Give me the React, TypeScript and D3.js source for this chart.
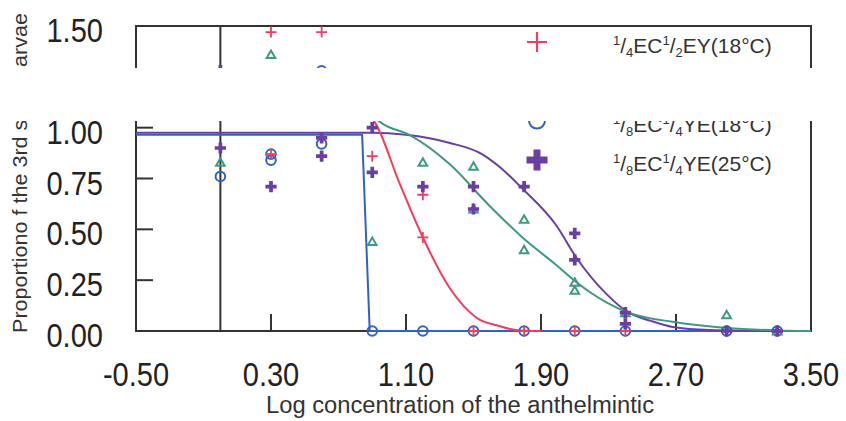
import React from 'react';
import * as d3 from 'd3';

// axis ticks
const xTicks = [-0.5, 0.3, 1.1, 1.9, 2.7, 3.5];
const yTicks = [0, 0.25, 0.5, 0.75, 1.0, 1.25, 1.5];

// observed points (log concentration, proportion)
const redX = [0.3, 0.6, 0.3, 0.9, 1.2, 1.2, 1.5, 1.8, 2.1, 2.4, 3.0, 3.3];
const redY = [1.47, 1.47, 0.87, 0.86, 0.67, 0.46, 0, 0, 0, 0, 0, 0];
const greenX = [0, 0.3, 0.9, 1.2, 1.5, 1.5, 1.8, 1.8, 2.1, 2.1, 2.4, 3.0, 3.3];
const greenY = [0.83, 1.36, 0.44, 0.83, 0.81, 0.6, 0.55, 0.4, 0.24, 0.2, 0.09, 0.08, 0];
const blueX = [0, 0.3, 0.3, 0.6, 0.6, 0.9, 1.2, 1.5, 1.8, 2.1, 2.4, 3.0, 3.3];
const blueY = [0.76, 0.87, 0.84, 0.92, 1.28, 0, 0, 0, 0, 0, 0, 0, 0];
const purpleX = [0, 0, 0.3, 0.6, 0.6, 0.9, 0.9, 1.2, 1.5, 1.5, 1.8, 2.1, 2.1, 2.4, 2.4, 3.0, 3.3];
const purpleY = [0.9, 1.28, 0.71, 0.95, 0.86, 1.0, 0.78, 0.71, 0.71, 0.6, 0.71, 0.48, 0.35, 0.09, 0.035, 0, 0];

// fitted curves
const redFitX = [0.86, 0.92, 1.06, 1.2, 1.36, 1.52, 1.65, 1.77, 1.9];
const redFitY = [1.08, 1.02, 0.73, 0.46, 0.21, 0.064, 0.025, 0.003, 0];
const greenFitX = [0.85, 0.96, 1.12, 1.36, 1.59, 1.79, 1.99, 2.11, 2.29, 2.42, 2.68, 3.0, 3.3, 3.5];
const greenFitY = [1.1, 1.02, 0.965, 0.82, 0.62, 0.46, 0.325, 0.24, 0.14, 0.09, 0.045, 0.015, 0.003, 0];
const blueFitX = [-0.5, 0.84, 0.885, 3.5];
const blueFitY = [0.965, 0.965, 0, 0];
const purpleFitX = [-0.5, 0.9, 1.1, 1.36, 1.55, 1.65, 1.79, 1.99, 2.11, 2.29, 2.42, 2.55, 2.68, 2.9, 3.3];
const purpleFitY = [0.975, 0.975, 0.965, 0.925, 0.87, 0.81, 0.7, 0.52, 0.36, 0.18, 0.09, 0.05, 0.02, 0.005, 0];

const legendLabels = [
  ['4', '2', 'EY(18°C)'],
  ['4', '2', 'EY(25°C)'],
  ['8', '4', 'YE(18°C)'],
  ['8', '4', 'YE(25°C)'],
];

const RED = '#f43b5c';
const GREEN = '#3f9a82';
const BLUE = '#2f62c9';
const PURPLE = '#6a3fa3';
const AXIS = '#333';
const FONT = 'Liberation Sans, Arial, Helvetica, sans-serif';

const zip = (xs: number[], ys: number[]) => xs.map((x, i) => [x, ys[i]] as [number, number]);

const App = () => {
  const W = 846, H = 421;
  const x = d3.scaleLinear().domain([-0.5, 3.5]).range([136, 811]);
  const y = d3.scaleLinear().domain([0, 1.5]).range([331, 26]);

  const smooth = d3.line<[number, number]>().x(d => x(d[0])).y(d => y(d[1])).curve(d3.curveMonotoneX);
  const straight = d3.line<[number, number]>().x(d => x(d[0])).y(d => y(d[1]));

  const cross = (s: number) => d3.symbol().type(d3.symbolCross).size(s)() as string;
  const tri = (s: number) => d3.symbol().type(d3.symbolTriangle).size(s)() as string;
  const plus = (h: number) => `M${-h},0H${h}M0,${-h}V${h}`;

  const markers = [
    (cx: number, cy: number, big: boolean, k: string) => (
      <path key={k} d={plus(big ? 10 : 5.5)} transform={`translate(${cx},${cy})`} stroke={RED} strokeWidth={big ? 2.2 : 1.8} fill="none" />
    ),
    (cx: number, cy: number, big: boolean, k: string) => (
      <path key={k} d={tri(big ? 90 : 32)} transform={`translate(${cx},${cy + 1})`} stroke={GREEN} strokeWidth={2} fill="none" />
    ),
    (cx: number, cy: number, big: boolean, k: string) => (
      <circle key={k} cx={cx} cy={cy} r={big ? 8 : 4.8} stroke={BLUE} strokeWidth={2} fill="none" />
    ),
    (cx: number, cy: number, big: boolean, k: string) => (
      <path key={k} d={cross(big ? 245 : 70)} transform={`translate(${cx},${cy})`} fill={PURPLE} />
    ),
  ];

  const series = [
    { xs: blueX, ys: blueY, m: 2 },
    { xs: redX, ys: redY, m: 0 },
    { xs: greenX, ys: greenY, m: 1 },
    { xs: purpleX, ys: purpleY, m: 3 },
  ];

  const tickText = (label: string, tx: number, ty: number, anchor: string) => (
    <text key={label} transform={`translate(${tx},${ty}) scale(0.88,1)`} textAnchor={anchor}
      fontSize={33} fontFamily={FONT} fill="#222">{label}</text>
  );

  return (
    <svg width={W} height={H} style={{ position: 'absolute', left: 0, top: 0, background: '#fff' }}>
      {/* frame */}
      <rect x={x(-0.5)} y={y(1.5)} width={x(3.5) - x(-0.5)} height={y(0) - y(1.5)} fill="none" stroke={AXIS} strokeWidth={2} />
      <line x1={x(0)} x2={x(0)} y1={y(1.5)} y2={y(0)} stroke={AXIS} strokeWidth={2} />
      {xTicks.slice(1, -1).map(t => (
        <line key={'xt' + t} x1={x(t)} x2={x(t)} y1={y(0)} y2={y(0) - 17} stroke={AXIS} strokeWidth={2} />
      ))}
      {yTicks.slice(1, -1).map(t => (
        <line key={'yt' + t} x1={x(-0.5)} x2={x(-0.5) + 17} y1={y(t)} y2={y(t)} stroke={AXIS} strokeWidth={2} />
      ))}

      {/* fitted curves */}
      <path d={straight(zip(blueFitX, blueFitY)) as string} fill="none" stroke={BLUE} strokeWidth={2} />
      <path d={smooth(zip(purpleFitX, purpleFitY)) as string} fill="none" stroke={PURPLE} strokeWidth={2} />
      <path d={smooth(zip(greenFitX, greenFitY)) as string} fill="none" stroke={GREEN} strokeWidth={2} />
      <path d={smooth(zip(redFitX, redFitY)) as string} fill="none" stroke={RED} strokeWidth={2} />

      {/* observed points */}
      {series.map((s, si) => s.xs.map((xv, i) => markers[s.m](x(xv), y(s.ys[i]), false, `p${si}-${i}`)))}

      {/* tick labels */}
      {xTicks.map(t => tickText(t.toFixed(2), x(t), 386, 'middle'))}
      {yTicks.map(t => tickText(t.toFixed(2), 103, y(t) + 16, 'end'))}

      {/* legend */}
      {legendLabels.map((l, i) => {
        const ly = 42 + 39.3 * i;
        return (
          <g key={'lg' + i}>
            {markers[i](537, ly, true, 'lm' + i)}
            <text x={613} y={ly + 11} fontSize={21} fontFamily={FONT} fill="#333">
              <tspan fontSize={13} dy={-8}>1</tspan>
              <tspan dy={8}>/</tspan>
              <tspan fontSize={13} dy={4}>{l[0]}</tspan>
              <tspan dy={-4}>EC</tspan>
              <tspan fontSize={13} dy={-8}>1</tspan>
              <tspan dy={8}>/</tspan>
              <tspan fontSize={13} dy={4}>{l[1]}</tspan>
              <tspan dy={-4}>{l[2]}</tspan>
            </text>
          </g>
        );
      })}

      {/* axis titles */}
      <text transform="translate(27,333) rotate(-90)" fontSize={21} fontFamily={FONT} fill="#333"
        textLength={320} lengthAdjust="spacingAndGlyphs">Proportiono f the 3rd stage larvae</text>
      <text x={460} y={413} textAnchor="middle" fontSize={23} fontFamily={FONT} fill="#333"
        textLength={388} lengthAdjust="spacingAndGlyphs">Log concentration of the anthelmintic</text>

      {/* blank strip across the scan */}
      <rect x={0} y={68} width={W} height={53} fill="#fff" />
    </svg>
  );
};

export default App;
